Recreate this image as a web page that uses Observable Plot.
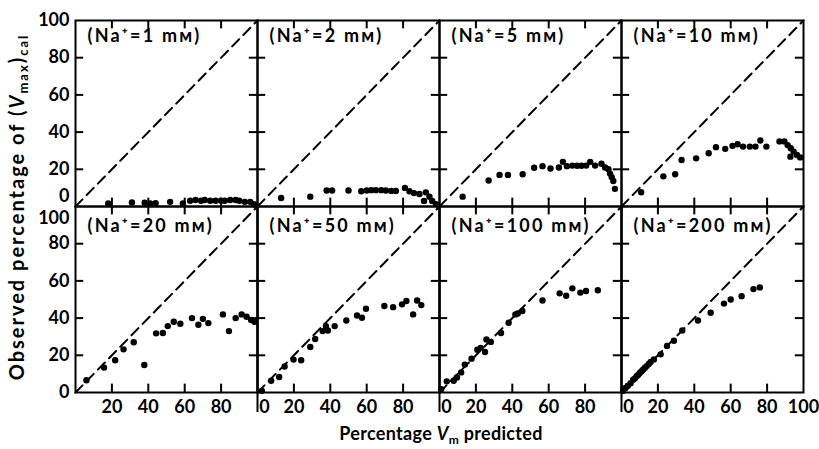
<!DOCTYPE html>
<html><head><meta charset="utf-8">
<script src="https://cdn.jsdelivr.net/npm/d3@7"></script>
<script src="https://cdn.jsdelivr.net/npm/@observablehq/plot@0.6"></script>
<style>body{margin:0;background:#fff}</style>
</head><body><div id="chart"></div>
<script>
// Na+ concentration (mM) for each panel
const sodium = [1, 2, 5, 10, 20, 50, 100, 200];

// Percentage Vm predicted (x) and observed percentage of (Vmax)cal (y)
const na1X = [18, 31, 38, 41, 44, 52, 59, 63, 66, 69, 71, 74, 77, 80, 82, 85, 88, 90, 93, 96, 98, 99];
const na1Y = [1.6, 2.2, 2, 1.6, 1.8, 2.5, 1.6, 3.1, 3.5, 3.1, 3.5, 3.1, 3.1, 3.1, 3.1, 3.5, 3.5, 3.1, 2.5, 2.5, 1.3, 0.9];

const na2X = [13, 29, 38, 41, 50, 57, 60, 62.5, 65, 68, 70.5, 73.5, 76, 81, 83.5, 86, 89, 92.5, 91.5, 94.5, 96, 98];
const na2Y = [4.6, 5.3, 8.6, 8.6, 8.6, 8.2, 8.6, 8.8, 8.8, 8.8, 8.6, 8.4, 8.4, 10, 8.2, 7.2, 6.7, 7.6, 3, 5.3, 3, 1.3];

const na3X = [12.7, 27, 33, 37.6, 45.7, 52, 56.6, 61, 65.6, 67.8, 70, 73, 75.6, 78, 80.6, 82.8, 85.5, 89, 91, 92.8, 93.7, 94.6, 95.5, 96.4];
const na3Y = [5.3, 14, 17, 17, 17.3, 20.8, 21.7, 20.4, 21, 24, 21.7, 22, 21.9, 21.9, 22, 24, 22, 23, 21, 20, 17.7, 15.8, 13.7, 9.5];

const na4X = [10.8, 23, 29.5, 33, 41, 47.9, 51.9, 57, 61, 63.8, 66.8, 70.5, 73.6, 76.3, 79.6, 86.8, 89.5, 91.3, 93, 92.8, 94.6, 96.4, 98.2];
const na4Y = [7.7, 16.2, 17.3, 25, 25.9, 28.6, 31.9, 31, 32.6, 33.5, 32.2, 32.2, 32.2, 35.5, 32.2, 35, 35, 33, 31.3, 26.8, 29.5, 27.7, 26.4];

const na5X = [6, 15.7, 21.8, 26.4, 32, 37.8, 44.3, 48, 50.7, 54, 57.6, 64, 67.5, 70, 73, 81, 84.3, 88, 91.3, 94, 96.5, 98.3];
const na5Y = [6.6, 13.4, 17.3, 23.2, 27, 14.8, 31.8, 32, 35.7, 38, 37, 40, 36.4, 39.6, 37.3, 42, 33, 40, 42, 40.7, 39, 38];

const na6X = [2.4, 7.5, 11.9, 14.9, 19.8, 24, 29, 31.7, 35.8, 37.6, 38.7, 42.4, 48.8, 54.7, 57.4, 59.6, 69.7, 74.5, 79.4, 81.8, 85.5, 87.7, 90];
const na6Y = [0.9, 6.3, 8.3, 14, 17.7, 17.3, 24.5, 28.8, 33, 35.7, 33.3, 35.7, 38.7, 41.4, 40.2, 45, 46.5, 45.9, 47.4, 49.2, 42, 49.5, 47];

const na7X = [0.9, 4, 7.8, 9.6, 11.9, 13.9, 17.6, 20.8, 22.6, 25, 25.8, 28.2, 33.8, 38, 41.7, 43, 45.5, 56.6, 66, 69.6, 73, 77.4, 80.5, 87];
const na7Y = [1.8, 6, 6.3, 8.1, 10.8, 15, 18.2, 23, 24, 21.8, 28.5, 27.2, 32, 37.5, 42, 42.5, 43.8, 49.5, 53.3, 52, 56, 53.7, 54.6, 55];

const na8X = [0.9, 2.2, 3.5, 5, 6.4, 7.4, 8.3, 9.2, 10, 11, 11.9, 12.9, 13.8, 15, 16, 17.8, 21.5, 25, 28.8, 33.4, 42, 49, 56.3, 60, 66, 72.5, 76];
const na8Y = [0.9, 2.4, 3.6, 5, 6.9, 7.6, 8.7, 9.5, 10.5, 11.4, 12.4, 13.3, 14.2, 15.3, 16.4, 17.8, 20.5, 25, 27.8, 33.3, 38.7, 42.9, 47.8, 50, 51.8, 55.6, 56.5];

// Ticks and tick labels
const xTicks = [20, 40, 60, 80];
const yTicks = [20, 40, 60, 80];
const yTickLabels = [0, 20, 40, 60, 80, 100];
const xTickLabelsByColumn = [[20, 40, 60, 80], [0, 20, 40, 60, 80], [0, 20, 40, 60, 80], [0, 20, 40, 60, 80, 100]];
const diagonal = [0, 100];

// ---- build tables ----
const series = [[na1X, na1Y], [na2X, na2Y], [na3X, na3Y], [na4X, na4Y],
                [na5X, na5Y], [na6X, na6Y], [na7X, na7Y], [na8X, na8Y]];
const points = series.flatMap(([xs, ys], i) =>
  xs.map((x, j) => ({x, y: ys[j], col: i % 4, row: Math.floor(i / 4)})));
const panels = sodium.map((n, i) => ({label: `(Na\u207A=${n} m\u1D0D)`, col: i % 4, row: Math.floor(i / 4)}));

const yLabels = [0, 1].flatMap(row => yTickLabels.map(v => ({v, row, col: 0})));
const yLabelsMain = yLabels.filter(d => !(d.row === 0 && d.v === 0) && !(d.row === 1 && d.v === 100));
const yLabelTopZero = yLabels.filter(d => d.row === 0 && d.v === 0);
const yLabelBottomHundred = yLabels.filter(d => d.row === 1 && d.v === 100);

const xLabels = xTickLabelsByColumn.flatMap((vals, col) => vals.map(v => ({v, col, row: 1})));
const xLabelsMain = xLabels.filter(d => d.v !== 0);
const xLabelsZero = xLabels.filter(d => d.v === 0);
const dividers = [1, 2, 3].map(col => ({col, row: 1}));

const font = "Lato";
const W = 819, H = 449;
const tickFont = {fontSize: 18, fontWeight: "bold", fill: "black"};
const panelFont = {fontSize: 18, fontWeight: "bold", fill: "black"};

const plot = Plot.plot({
  width: W, height: H,
  marginLeft: 74, marginRight: 16, marginTop: 20, marginBottom: 57,
  style: {fontFamily: font, background: "#fff"},
  x: {domain: [0, 100], axis: null},
  y: {domain: [0, 100], axis: null},
  fx: {domain: [0, 1, 2, 3], padding: 0, axis: null},
  fy: {domain: [0, 1], padding: 0, axis: null},
  marks: [
    // dashed line of identity
    Plot.line(diagonal, {x: d => d, y: d => d, stroke: "black", strokeWidth: 2, strokeDasharray: "10,6"}),
    // tick marks on all four sides of each panel
    Plot.ruleX(xTicks, {x: d => d, y1: 0, y2: 4.5, stroke: "black", strokeWidth: 2}),
    Plot.ruleX(xTicks, {x: d => d, y1: 95.5, y2: 100, stroke: "black", strokeWidth: 2}),
    Plot.ruleY(yTicks, {y: d => d, x1: 0, x2: 4.5, stroke: "black", strokeWidth: 2}),
    Plot.ruleY(yTicks, {y: d => d, x1: 95.5, x2: 100, stroke: "black", strokeWidth: 2}),
    // data
    Plot.dot(points, {x: "x", y: "y", fx: "col", fy: "row", r: 3.2, fill: "black", stroke: "none"}),
    // frame
    Plot.frame({stroke: "black", strokeWidth: 2}),
    Plot.ruleX(dividers, {x: () => 0, fx: "col", fy: "row", insetBottom: -20, stroke: "black", strokeWidth: 2}),
    // panel labels
    Plot.text(panels.filter(d => d.row === 0), {text: "label", fx: "col", fy: "row", frameAnchor: "top-left", textAnchor: "start", lineAnchor: "middle", dx: 12, dy: 16, ...panelFont}),
    Plot.text(panels.filter(d => d.row === 1), {text: "label", fx: "col", fy: "row", frameAnchor: "top-left", textAnchor: "start", lineAnchor: "middle", dx: 12, dy: 20, ...panelFont}),
    // y tick labels
    Plot.text(yLabelsMain, {x: () => 0, y: "v", text: d => String(d.v), fx: "col", fy: "row", textAnchor: "end", lineAnchor: "middle", dx: -6, ...tickFont}),
    Plot.text(yLabelTopZero, {x: () => 0, y: "v", text: d => String(d.v), fx: "col", fy: "row", textAnchor: "end", lineAnchor: "middle", dx: -6, dy: -10, ...tickFont}),
    Plot.text(yLabelBottomHundred, {x: () => 0, y: "v", text: d => String(d.v), fx: "col", fy: "row", textAnchor: "end", lineAnchor: "middle", dx: -6, dy: 12, ...tickFont}),
    // x tick labels
    Plot.text(xLabelsMain, {x: "v", y: () => 0, text: d => String(d.v), fx: "col", fy: "row", textAnchor: "middle", lineAnchor: "middle", dy: 15, ...tickFont}),
    Plot.text(xLabelsZero, {x: "v", y: () => 0, text: d => String(d.v), fx: "col", fy: "row", textAnchor: "middle", lineAnchor: "middle", dx: 7, dy: 15, ...tickFont})
  ]
});

document.getElementById("chart").appendChild(plot);

const svg = d3.select(plot);
// widen the panel labels to the reference's letter spacing
svg.selectAll("text").filter(function() { return this.textContent.startsWith("(Na"); })
  .attr("letter-spacing", "2.2px");

// Axis titles with italic V and subscripts
const yt = svg.append("text")
  .attr("transform", "translate(24,207) rotate(-90)")
  .attr("text-anchor", "middle")
  .attr("font-family", font).attr("font-size", 20).attr("font-weight", "bold")
  .attr("letter-spacing", "2px").attr("fill", "black");
yt.append("tspan").text("Observed percentage of (");
yt.append("tspan").attr("font-style", "italic").text("V");
yt.append("tspan").attr("font-size", 13).attr("dy", 4).text("max");
yt.append("tspan").attr("dy", -4).text(")");
yt.append("tspan").attr("font-size", 13).attr("dy", 4).text("cal");

const xt = svg.append("text")
  .attr("x", 441).attr("y", 440)
  .attr("text-anchor", "middle")
  .attr("font-family", font).attr("font-size", 18).attr("font-weight", "bold")
  .attr("letter-spacing", "0.3px").attr("fill", "black");
xt.append("tspan").text("Percentage ");
xt.append("tspan").attr("font-style", "italic").text("V");
xt.append("tspan").attr("font-size", 12).attr("dy", 4).text("m");
xt.append("tspan").attr("dy", -4).text(" predicted");
</script>
</body></html>
